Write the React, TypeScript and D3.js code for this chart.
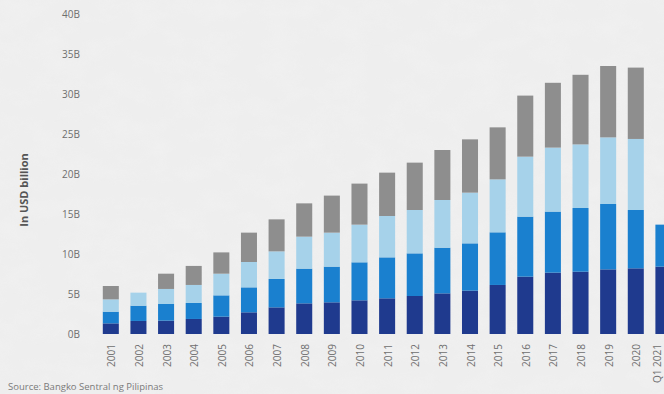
import React from "react";
import * as d3 from "d3";

const categories = ["2001","2002","2003","2004","2005","2006","2007","2008","2009","2010","2011","2012","2013","2014","2015","2016","2017","2018","2019","2020","Q1 2021"];
const seriesA = [1.33,1.63,1.67,1.88,2.17,2.71,3.33,3.83,3.96,4.21,4.46,4.75,5.08,5.42,6.13,7.17,7.67,7.79,8.08,8.21,8.42];
const seriesB = [1.46,1.91,2.08,2.0,2.66,3.12,3.55,4.34,4.46,4.75,5.12,5.33,5.71,5.91,6.58,7.5,7.63,7.96,8.17,7.29,5.25];
const seriesC = [1.54,1.63,1.88,2.25,2.71,3.17,3.45,4.0,4.25,4.71,5.17,5.42,5.96,6.34,6.62,7.5,8.0,7.95,8.33,8.88,0];
const seriesD = [1.67,0,1.91,2.38,2.66,3.67,4.0,4.16,4.63,5.13,5.42,5.92,6.25,6.66,6.5,7.63,8.1,8.7,8.92,8.92,0];
const yTicks = [0,5,10,15,20,25,30,35,40];
const seriesKeys = ["a","b","c","d"];
const colors = ["#1f3a8e","#1a80cf","#a6d2ea","#8e8e8e"];

export default function App() {
  const W = 664, H = 394;
  const rows = categories.map((c, i) => ({ cat: c, a: seriesA[i], b: seriesB[i], c: seriesC[i], d: seriesD[i] }));
  const stack = d3.stack<any>().keys(seriesKeys)(rows);
  const x = d3.scaleBand().domain(categories).range([97, 97 + 21 * 27.63]).paddingInner(0.42).paddingOuter(0.21);
  const y = d3.scaleLinear().domain([0, 40]).range([334, 14]);
  const labelX = (c: string) => Math.min((x(c) as number) + x.bandwidth() / 2 + 1, 657);
  return (
    <svg width={W} height={H} style={{ position: "absolute", left: 0, top: 0, fontFamily: "'Open Sans', 'DejaVu Sans', sans-serif" }}>
      <defs>
        <filter id="paper" x="0" y="0" width="100%" height="100%">
          <feTurbulence type="fractalNoise" baseFrequency="0.03 0.05" numOctaves={3} seed={4} result="n" />
          <feColorMatrix in="n" type="matrix" values="0 0 0 0 0.92  0 0 0 0 0.92  0 0 0 0 0.92  0 0 0 -0.9 0.55" />
        </filter>
      </defs>
      <rect x={0} y={0} width={W} height={H} fill="#eeeeee" />
      <rect x={0} y={0} width={W} height={H} filter="url(#paper)" opacity={0.6} />
      {yTicks.map(t => (
        <text key={t} x={80} y={y(t)} dy="0.35em" textAnchor="end" fontSize={10} fill="#6e6e6e">{t}B</text>
      ))}
      <text transform={`translate(28,190) rotate(-90)`} textAnchor="middle" fontSize={11} fontWeight={700} fill="#555">In USD billion</text>
      {stack.map((s, si) => (
        <g key={si} fill={colors[si]}>
          {s.map((d, i) => d[1] - d[0] > 0 ? (
            <rect key={i} x={x(categories[i])} width={x.bandwidth()} y={y(d[1])} height={y(d[0]) - y(d[1])} />
          ) : null)}
        </g>
      ))}
      {categories.map(c => (
        <text key={c} transform={`translate(${labelX(c)},344) rotate(-90)`} textAnchor="end" dy="0.35em" fontSize={10} fill="#6e6e6e">{c}</text>
      ))}
      <text x={8} y={390} fontSize={9.5} fill="#7a7a7a">Source: Bangko Sentral ng Pilipinas</text>
    </svg>
  );
}
